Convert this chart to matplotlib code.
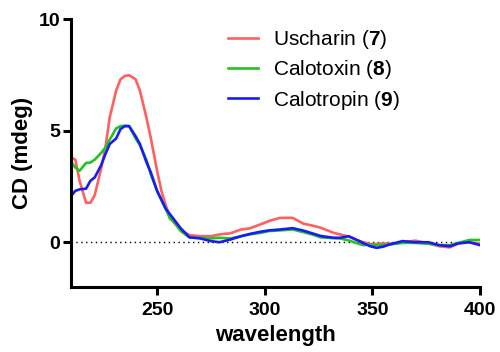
import numpy as np
import matplotlib
matplotlib.use('Agg')
import matplotlib.pyplot as plt

plt.rcParams['font.family'] = ['Liberation Sans', 'DejaVu Sans']
plt.rcParams['mathtext.fontset'] = 'custom'
plt.rcParams['mathtext.rm'] = 'Liberation Sans'
plt.rcParams['mathtext.bf'] = 'Liberation Sans:bold'

# CD spectra
wavelength = [210, 212, 214, 217, 219, 221, 224, 226, 228, 231, 233, 235, 237, 240,
              242, 245, 247, 250, 252, 254, 256, 258, 261, 265, 270, 275, 279, 284,
              289, 293, 298, 302, 307, 313, 318, 322, 326, 332, 335, 339, 344, 346,
              349, 352, 355, 358, 364, 370, 376, 381, 386, 390, 395, 400]
uscharin = [3.8, 3.7, 2.75, 1.77, 1.77, 2.1, 3.3, 4.25, 5.6, 6.8, 7.3, 7.45, 7.48, 7.3,
            6.8, 5.6, 4.7, 3.2, 2.3, 1.65, 1.15, 0.85, 0.55, 0.32, 0.27, 0.27, 0.35, 0.4,
            0.57, 0.62, 0.8, 0.95, 1.09, 1.09, 0.83, 0.75, 0.65, 0.42, 0.35, 0.25, 0.05, 0.0,
            -0.08, -0.08, -0.05, -0.07, 0.0, 0.07, -0.05, -0.18, -0.23, -0.05, 0.0, -0.07]
calotoxin = [3.6, 3.35, 3.2, 3.55, 3.57, 3.7, 4.0, 4.25, 4.6, 5.1, 5.2, 5.22, 5.2, 4.65,
             4.35, 3.7, 3.05, 2.3, 1.9, 1.5, 1.05, 0.9, 0.5, 0.22, 0.2, 0.17, 0.2, 0.17,
             0.27, 0.35, 0.42, 0.5, 0.53, 0.57, 0.45, 0.35, 0.22, 0.18, 0.17, 0.08, -0.08, -0.13,
             -0.1, -0.13, -0.12, -0.1, -0.03, -0.03, -0.07, -0.13, -0.13, -0.03, 0.1, 0.1]
calotropin = [2.07, 2.3, 2.37, 2.4, 2.75, 2.9, 3.45, 3.95, 4.4, 4.65, 5.07, 5.2, 5.2, 4.75,
              4.4, 3.6, 3.15, 2.3, 1.9, 1.5, 1.25, 1.0, 0.62, 0.22, 0.17, 0.05, 0.0, 0.12,
              0.27, 0.37, 0.47, 0.53, 0.57, 0.63, 0.52, 0.4, 0.28, 0.2, 0.2, 0.27, 0.05, -0.05,
              -0.18, -0.25, -0.2, -0.1, 0.05, 0.0, 0.0, -0.13, -0.18, -0.05, 0.0, -0.13]

labels = ['Uscharin ($\\bf{7}$)', 'Calotoxin ($\\bf{8}$)', 'Calotropin ($\\bf{9}$)']
colors = ['#ff6060', '#22c322', '#1a1af5']

fig = plt.figure(figsize=(5, 3.52), dpi=100)
ax = fig.add_axes([0.142, 0.185, 0.818, 0.761])

for ys, lab, c in zip([uscharin, calotoxin, calotropin], labels, colors):
    ax.plot(wavelength, ys, color=c, lw=1.9, label=lab)

ax.axhline(0, color='black', lw=1, ls=(0, (1, 2.5)), zorder=0)

ax.set_xlim(210, 400)
ax.set_ylim(-2, 10)
ax.set_xticks([250, 300, 350, 400])
ax.set_yticks([0, 5, 10])
for s in ['top', 'right']:
    ax.spines[s].set_visible(False)
for s in ['left', 'bottom']:
    ax.spines[s].set_linewidth(2.2)
ax.tick_params(width=2.2, length=6, labelsize=14, pad=2)
ax.tick_params(axis='x', pad=5)
for t in ax.get_xticklabels() + ax.get_yticklabels():
    t.set_fontweight('bold')
ax.set_xlabel('wavelength', fontsize=16, fontweight='bold', labelpad=4)
ax.set_ylabel('CD (mdeg)', fontsize=16, fontweight='bold', labelpad=4)

ax.legend(loc='upper left', bbox_to_anchor=(0.436, 0.95), bbox_transform=fig.transFigure,
          frameon=False, fontsize=15, borderpad=0, handlelength=1.4,
          handletextpad=0.75, labelspacing=0.35)

plt.savefig('out.png', dpi=100)
